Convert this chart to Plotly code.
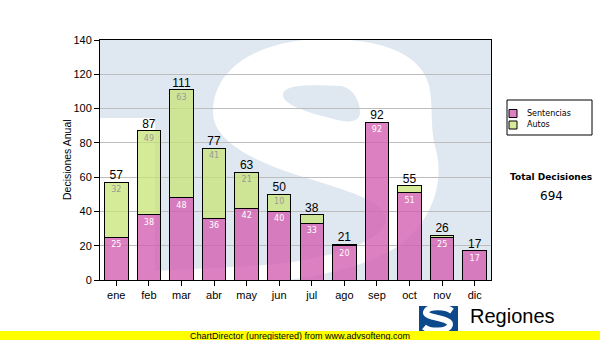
import numpy as np
import plotly.graph_objects as go

# Monthly decisions
months = ["ene", "feb", "mar", "abr", "may", "jun", "jul", "ago", "sep", "oct", "nov", "dic"]
sentencias = [25, 38, 48, 36, 42, 40, 33, 20, 92, 51, 25, 17]
autos = [32, 49, 63, 41, 21, 10, 5, 1, 0, 4, 1, 0]
totals = [s + a for s, a in zip(sentencias, autos)]
y_ticks = [0, 20, 40, 60, 80, 100, 120, 140]
series_names = ["Sentencias", "Autos"]

W, H = 600, 340
L, R, T, B = 100, 109, 40, 60
PW, PH = W - L - R, H - T - B
x_pos = np.arange(len(months))
X_RANGE = [-0.5, len(months) - 0.5]
Y_RANGE = [0, 140]


def to_data(px, py):
    xd = X_RANGE[0] + (px - L) / PW * (X_RANGE[1] - X_RANGE[0])
    yd = Y_RANGE[0] + (H - B - py) / PH * (Y_RANGE[1] - Y_RANGE[0])
    return xd, yd


def to_paper(px, py):
    return (px - L) / PW, (H - B - py) / PH


def build_path(cmds, conv, close=False):
    parts = []
    for letter, pts in cmds:
        coords = []
        for (px, py) in pts:
            a, b = conv(px, py)
            coords.append(f"{a:.4f},{b:.4f}")
        parts.append(letter + " " + " ".join(coords))
    if close:
        parts.append("Z")
    return " ".join(parts)


PINK = "rgba(212, 92, 176, 0.78)"
GREEN = "rgba(200, 228, 118, 0.75)"
COLORS = [PINK, GREEN]
WM_BLUE = "#dfe8f1"

# outline of the large "S" watermark behind the bars (pixel space)
s_outline = [
    ("M", [(430, 90)]),
    ("C", [(424, 55), (385, 39), (325, 39)]),
    ("C", [(262, 39), (213, 66), (213, 112)]),
    ("C", [(213, 140), (250, 160), (300, 176)]),
    ("C", [(345, 190), (383, 200), (386, 218)]),
    ("C", [(388, 240), (330, 262), (250, 266)]),
    ("L", [(155, 271)]),
    ("L", [(155, 118)]),
    ("L", [(95, 118)]),
    ("L", [(95, 290)]),
    ("L", [(200, 286)]),
    ("C", [(280, 284), (350, 275), (395, 248)]),
    ("C", [(430, 225), (445, 185), (436, 150)]),
    ("C", [(430, 130), (433, 110), (430, 90)]),
]
# counter of the upper bowl
s_counter = [
    ("M", [(283, 95)]),
    ("C", [(283, 86), (300, 84), (340, 86)]),
    ("C", [(352, 87), (360, 100), (360, 112)]),
    ("C", [(360, 122), (350, 124), (330, 118)]),
    ("C", [(305, 112), (283, 104), (283, 95)]),
]

# small logo "S"
logo_s = [
    ("M", [(452, 311)]),
    ("C", [(445, 306), (428, 306), (426, 312)]),
    ("C", [(424, 318), (452, 318), (450, 325)]),
    ("C", [(448, 332), (430, 332), (424, 327)]),
]

sent_text = [str(v) if v >= 10 else "" for v in sentencias]
auto_text = [str(v) if v >= 10 else "" for v in autos]

fig = go.Figure()
fig.add_trace(go.Bar(
    x=x_pos, y=sentencias, name=series_names[0],
    marker=dict(color=PINK, line=dict(color="black", width=1)),
    text=sent_text, textposition="inside", insidetextanchor="end",
    textangle=0, constraintext="none",
    textfont=dict(family="DejaVu Sans", size=8, color="white"),
    hoverinfo="skip",
))
fig.add_trace(go.Bar(
    x=x_pos, y=autos, name=series_names[1],
    marker=dict(color=GREEN, line=dict(color="black", width=1)),
    text=auto_text, textposition="inside", insidetextanchor="end",
    textangle=0, constraintext="none",
    textfont=dict(family="DejaVu Sans", size=8, color="#999999"),
    hoverinfo="skip",
))
fig.add_trace(go.Scatter(
    x=x_pos, y=totals, mode="text", text=[str(t) for t in totals],
    textposition="top center", showlegend=False, cliponaxis=False,
    textfont=dict(family="Liberation Sans", size=12, color="black"),
    hoverinfo="skip",
))

shapes = [
    # watermark background
    dict(type="rect", xref="x", yref="y", x0=X_RANGE[0], x1=X_RANGE[1],
         y0=Y_RANGE[0], y1=Y_RANGE[1], fillcolor=WM_BLUE, line_width=0, layer="below"),
    dict(type="path", xref="x", yref="y", path=build_path(s_outline, to_data, close=True),
         line_width=0, fillcolor="white", layer="below"),
    dict(type="path", xref="x", yref="y", path=build_path(s_counter, to_data, close=True),
         line_width=0, fillcolor=WM_BLUE, layer="below"),
]

annotations = []

# legend box
bx0, by0 = to_paper(507, 100)
bx1, by1 = to_paper(592, 135)
shapes.append(dict(type="rect", xref="paper", yref="paper", x0=bx0, x1=bx1, y0=by1, y1=by0,
                   fillcolor="white", line=dict(color="black", width=1)))
for i, (name, col) in enumerate(zip(series_names, COLORS)):
    cy = 113.5 + 11.5 * i
    sx0, sy0 = to_paper(509, cy - 4)
    sx1, sy1 = to_paper(517, cy + 4)
    shapes.append(dict(type="rect", xref="paper", yref="paper", x0=sx0, x1=sx1, y0=sy1, y1=sy0,
                       fillcolor=col, line=dict(color="black", width=1)))
    tx, ty = to_paper(525, cy)
    annotations.append(dict(xref="paper", yref="paper", x=tx, y=ty, showarrow=False,
                            text=name, xanchor="left", yanchor="middle",
                            font=dict(family="DejaVu Sans", size=8, color="black")))

# logo block
lx0, ly0 = to_paper(419, 306)
lx1, ly1 = to_paper(458, 340)
shapes.append(dict(type="rect", xref="paper", yref="paper", x0=lx0, x1=lx1, y0=ly1, y1=ly0,
                   fillcolor="#0d4a8c", line_width=0))
shapes.append(dict(type="path", xref="paper", yref="paper", path=build_path(logo_s, to_paper),
                   line=dict(color="white", width=6), fillcolor="rgba(0,0,0,0)"))
# footer band
fx0, fy0 = to_paper(0, 331)
fx1, fy1 = to_paper(600, 340)
shapes.append(dict(type="rect", xref="paper", yref="paper", x0=fx0, x1=fx1, y0=fy1, y1=fy0,
                   fillcolor="#ffff00", line_width=0))

ax, ay = to_paper(300, 335.5)
annotations.append(dict(xref="paper", yref="paper", x=ax, y=ay, showarrow=False,
                        text="ChartDirector (unregistered) from www.advsofteng.com",
                        font=dict(family="Liberation Sans", size=9, color="black"),
                        xanchor="center", yanchor="middle"))
ax, ay = to_paper(468, 316)
annotations.append(dict(xref="paper", yref="paper", x=ax, y=ay, showarrow=False,
                        text="Regiones", font=dict(family="Liberation Sans", size=20, color="black"),
                        xanchor="left", yanchor="middle"))
ax, ay = to_paper(551, 177)
annotations.append(dict(xref="paper", yref="paper", x=ax, y=ay, showarrow=False,
                        text="<b>Total Decisiones</b>",
                        font=dict(family="DejaVu Sans", size=9, color="black"),
                        xanchor="center", yanchor="middle"))
ax, ay = to_paper(551, 196)
annotations.append(dict(xref="paper", yref="paper", x=ax, y=ay, showarrow=False,
                        text=str(sum(totals)),
                        font=dict(family="DejaVu Sans", size=12, color="black"),
                        xanchor="center", yanchor="middle"))
# y-axis title
ax, ay = to_paper(67, 160)
annotations.append(dict(xref="paper", yref="paper", x=ax, y=ay, showarrow=False,
                        text="Decisiones Anual", textangle=-90,
                        font=dict(family="Liberation Sans", size=10.5, color="black"),
                        xanchor="center", yanchor="middle"))

fig.update_layout(
    width=W, height=H,
    margin=dict(l=L, r=R, t=T, b=B, pad=0),
    paper_bgcolor="white", plot_bgcolor="white",
    barmode="stack", bargap=0.28,
    showlegend=False,
    shapes=shapes,
    annotations=annotations,
    xaxis=dict(range=X_RANGE, tickmode="array", tickvals=x_pos, ticktext=months,
               showline=True, linecolor="black", linewidth=1, mirror=True,
               ticks="outside", ticklen=5, tickcolor="black", showgrid=False,
               zeroline=False, fixedrange=True,
               tickfont=dict(family="Liberation Sans", size=11, color="black")),
    yaxis=dict(range=Y_RANGE, tickmode="array", tickvals=y_ticks,
               showline=True, linecolor="black", linewidth=1, mirror=True,
               ticks="outside", ticklen=5, tickcolor="black",
               showgrid=True, gridcolor="#bdbdbd", gridwidth=1, zeroline=False,
               tickfont=dict(family="Liberation Sans", size=11, color="black")),
)

fig.write_html("out.html")
